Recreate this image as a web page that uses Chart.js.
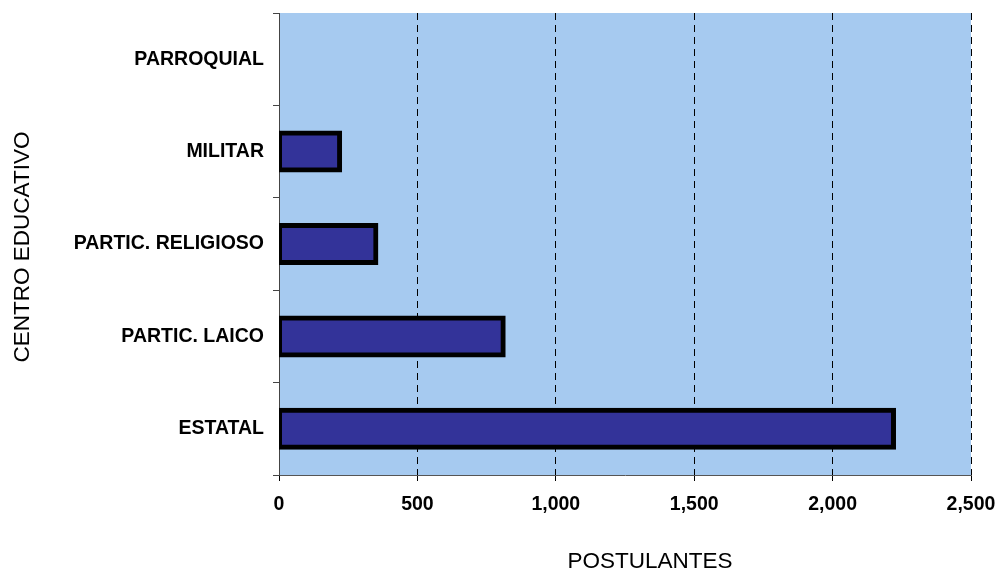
<!DOCTYPE html>
<html>
<head>
<meta charset="utf-8">
<script src="https://cdn.jsdelivr.net/npm/chart.js@4/dist/chart.umd.min.js"></script>
<style>
html,body{margin:0;padding:0;background:#fff;}
#wrap{width:998px;height:574px;}
</style>
</head>
<body>
<div id="wrap"><canvas id="grafico" width="998" height="574"></canvas></div>
<script>
// datos
const centros = ["PARROQUIAL", "MILITAR", "PARTIC. RELIGIOSO", "PARTIC. LAICO", "ESTATAL"];
const postulantes = [0, 219, 350, 810, 2220];
const ticksX = [0, 500, 1000, 1500, 2000, 2500];

const tituloX = "POSTULANTES";
const tituloY = "CENTRO EDUCATIVO";
const fuente = "Liberation Sans, Arial";

const fondoArea = {
    id: "fondoArea",
    beforeDraw(chart){
        const a = chart.chartArea;
        const ctx = chart.ctx;
        ctx.save();
        ctx.fillStyle = "#a6caf0";
        ctx.fillRect(a.left, a.top, a.right - a.left, a.bottom - a.top);
        ctx.restore();
    }
};

// titulos de ejes (en el original no estan centrados sobre el area)
const titulosEjes = {
    id: "titulosEjes",
    afterDraw(chart){
        const a = chart.chartArea;
        const ctx = chart.ctx;
        ctx.save();
        ctx.fillStyle = "#000000";
        ctx.font = "22.5px " + fuente;
        ctx.textAlign = "center";
        ctx.textBaseline = "middle";
        ctx.fillText(tituloX, (a.left + a.right) / 2 + 25, chart.height - 12);
        ctx.translate(23, (a.top + a.bottom) / 2 + 3);
        ctx.rotate(-Math.PI / 2);
        ctx.fillText(tituloY, 0, 0);
        ctx.restore();
    }
};

const ctx = document.getElementById("grafico");

new Chart(ctx, {
    type: "bar",
    data: {
        labels: centros,
        datasets: [{
            label: "Postulantes",
            data: postulantes,
            backgroundColor: "#333399",
            borderColor: "#000000",
            borderWidth: 5,
            borderSkipped: false,
            inflateAmount: 2.5,
            barThickness: 37
        }]
    },
    options: {
        indexAxis: "y",
        responsive: false,
        animation: false,
        layout: { padding: { left: 0, top: 13, right: 27, bottom: 0 } },
        plugins: {
            legend: { display: false },
            tooltip: { enabled: false }
        },
        scales: {
            x: {
                min: 0,
                max: 2500,
                afterBuildTicks(scale){
                    scale.ticks = ticksX.map(v => ({ value: v }));
                },
                afterFit(scale){
                    scale.height = 99;
                    scale.paddingLeft = 0;
                    scale.paddingRight = 0;
                },
                grid: {
                    color: "#000000",
                    lineWidth: 1,
                    drawTicks: true,
                    tickLength: 6
                },
                border: { display: true, color: "#555555", width: 1, dash: [7, 5] },
                ticks: {
                    color: "#000000",
                    padding: 12,
                    font: { family: fuente, size: 19.5, weight: "bold" },
                    callback: v => v.toLocaleString("en-US")
                }
            },
            y: {
                afterFit(scale){
                    scale.width = 279;
                    scale.paddingTop = 0;
                    scale.paddingBottom = 0;
                },
                grid: {
                    drawOnChartArea: false,
                    drawTicks: true,
                    tickLength: 6,
                    color: "#444444"
                },
                border: { display: true, color: "#444444", width: 1 },
                ticks: {
                    color: "#000000",
                    padding: 9,
                    font: { family: fuente, size: 19.5, weight: "bold" }
                }
            }
        }
    },
    plugins: [fondoArea, titulosEjes]
});
</script>
</body>
</html>
